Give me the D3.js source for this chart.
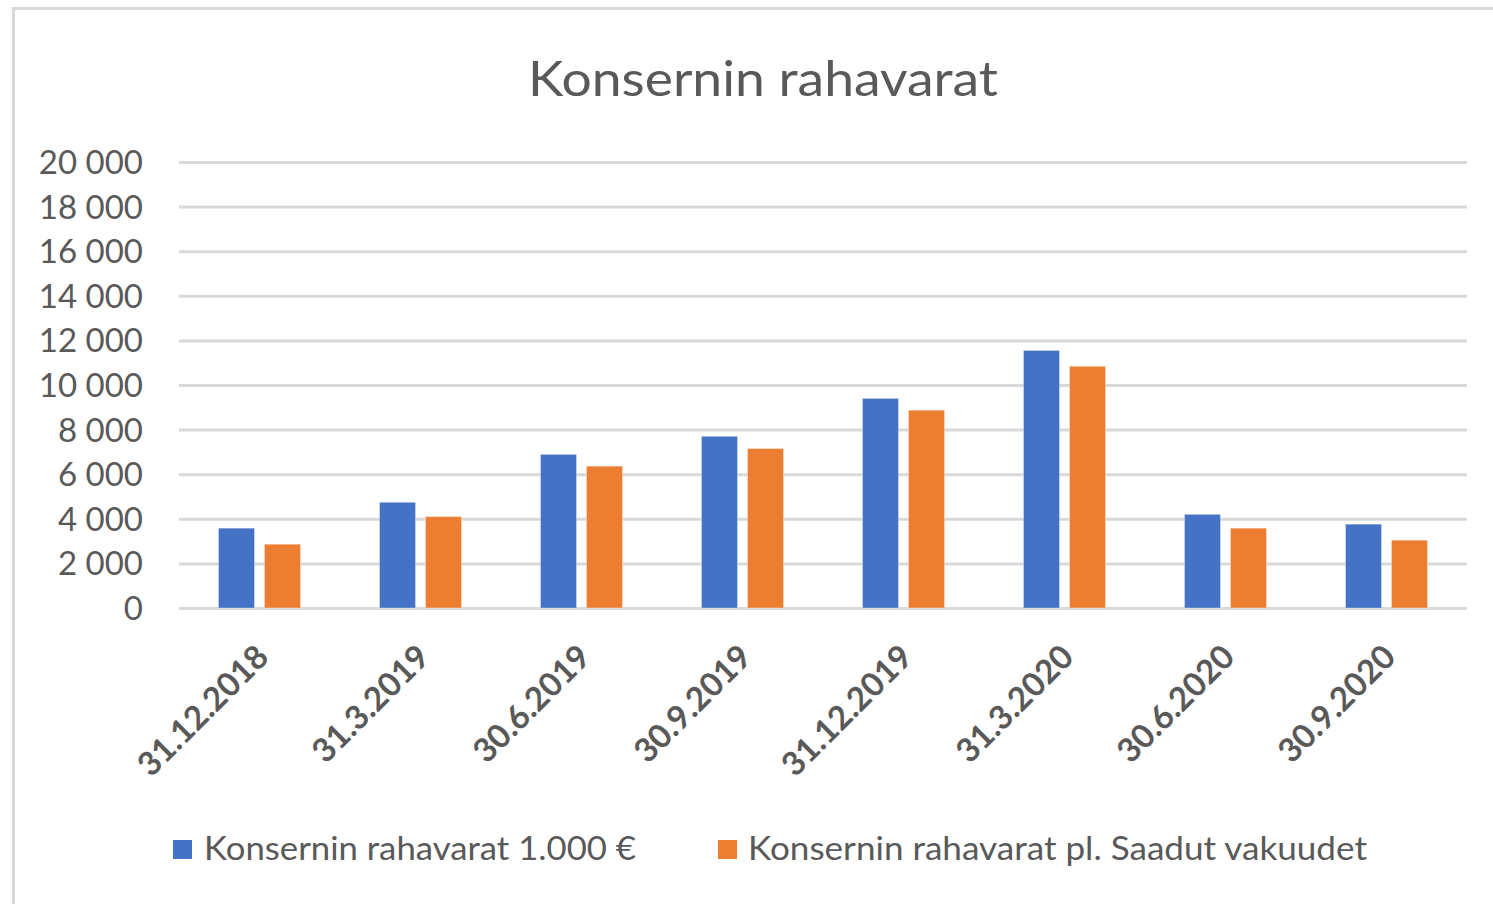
<!DOCTYPE html>
<html>
<head>
<meta charset="utf-8">
<script src="https://cdn.jsdelivr.net/npm/d3@7"></script>
<style>
  html, body { margin: 0; padding: 0; background: #fff; }
  svg { display: block; }
</style>
</head>
<body>
<svg id="chart" width="1493" height="904"></svg>
<script>
const title = "Konsernin rahavarat";
const categories = ["31.12.2018", "31.3.2019", "30.6.2019", "30.9.2019", "31.12.2019", "31.3.2020", "30.6.2020", "30.9.2020"];
const seriesNames = ["Konsernin rahavarat 1.000 €", "Konsernin rahavarat pl. Saadut vakuudet"];
const seriesA = [3580, 4740, 6890, 7700, 9400, 11550, 4200, 3760];
const seriesB = [2860, 4100, 6360, 7150, 8870, 10840, 3580, 3040];
const yTicks = [0, 2000, 4000, 6000, 8000, 10000, 12000, 14000, 16000, 18000, 20000];
const colors = ["#4472c4", "#ed7d31"];

const svg = d3.select("#chart");
const W = 1493, H = 904;
const font = "Lato, 'Open Sans', sans-serif";
const textColor = "#595959";

// frame border (left and top visible)
svg.append("line").attr("x1", 13.5).attr("x2", 13.5).attr("y1", 8.5).attr("y2", H)
  .attr("stroke", "#d9d9d9").attr("stroke-width", 3);
svg.append("line").attr("x1", 12).attr("x2", W).attr("y1", 8.5).attr("y2", 8.5)
  .attr("stroke", "#d9d9d9").attr("stroke-width", 3);

const plot = { left: 179, right: 1467, top: 162, bottom: 608 };

const x = d3.scaleBand().domain(categories).range([plot.left, plot.right]).paddingInner(0).paddingOuter(0);
const groupFrac = 82 / 161;
const x1 = d3.scaleBand().domain([0, 1])
  .range([x.bandwidth() * (1 - groupFrac) / 2, x.bandwidth() * (1 + groupFrac) / 2])
  .paddingInner(0.217);
const y = d3.scaleLinear().domain([0, 20000]).range([plot.bottom, plot.top]);

// gridlines
const fmt = v => v === 0 ? "0" : d3.format(",")(v).replace(/,/g, " ");
const yAxis = d3.axisLeft(y).tickValues(yTicks).tickSize(-(plot.right - plot.left)).tickFormat(fmt).tickPadding(36);
const gy = svg.append("g").attr("transform", `translate(${plot.left},0)`).call(yAxis);
gy.select(".domain").remove();
gy.selectAll(".tick line").attr("stroke", "#d9d9d9").attr("stroke-width", 3);
gy.selectAll(".tick text").attr("fill", textColor).style("font-family", font)
  .style("font-size", "33px").attr("dy", "0.35em").style("white-space", "pre");

// bars
const data = categories.map((c, i) => ({ c, vals: [seriesA[i], seriesB[i]] }));
const groups = svg.append("g").selectAll("g").data(data).join("g")
  .attr("transform", d => `translate(${x(d.c)},0)`);
groups.selectAll("rect").data(d => d.vals.map((v, k) => ({ v, k }))).join("rect")
  .attr("x", d => x1(d.k))
  .attr("width", x1.bandwidth())
  .attr("y", d => y(d.v))
  .attr("height", d => y(0) - y(d.v))
  .attr("fill", d => colors[d.k])
  .attr("stroke", "#ffffff").attr("stroke-opacity", 0.35).attr("stroke-width", 1);

// x labels
const xl = svg.append("g").selectAll("text").data(categories).join("text")
  .attr("transform", d => `translate(${x(d) + x.bandwidth() / 2 + 11},${plot.bottom + 51}) rotate(-45)`)
  .attr("text-anchor", "end")
  .attr("fill", textColor)
  .style("font-family", font).style("font-weight", 700).style("font-size", "33px")
  .text(d => d);

// title
svg.append("text").attr("x", 763).attr("y", 96).attr("text-anchor", "middle")
  .attr("fill", textColor).style("font-family", font).style("font-size", "48px")
  .attr("textLength", 470).attr("lengthAdjust", "spacingAndGlyphs")
  .text(title);

// legend
const legendItems = [
  { name: seriesNames[0], color: colors[0], sx: 173, tx: 204, tw: 432 },
  { name: seriesNames[1], color: colors[1], sx: 718, tx: 748, tw: 619 }
];
const lg = svg.append("g");
legendItems.forEach(it => {
  lg.append("rect").attr("x", it.sx).attr("y", 840).attr("width", 19).attr("height", 19).attr("fill", it.color);
  lg.append("text").attr("x", it.tx).attr("y", 860).attr("fill", textColor)
    .style("font-family", font).style("font-size", "32px")
    .attr("textLength", it.tw).attr("lengthAdjust", "spacingAndGlyphs")
    .text(it.name);
});
</script>
</body>
</html>
